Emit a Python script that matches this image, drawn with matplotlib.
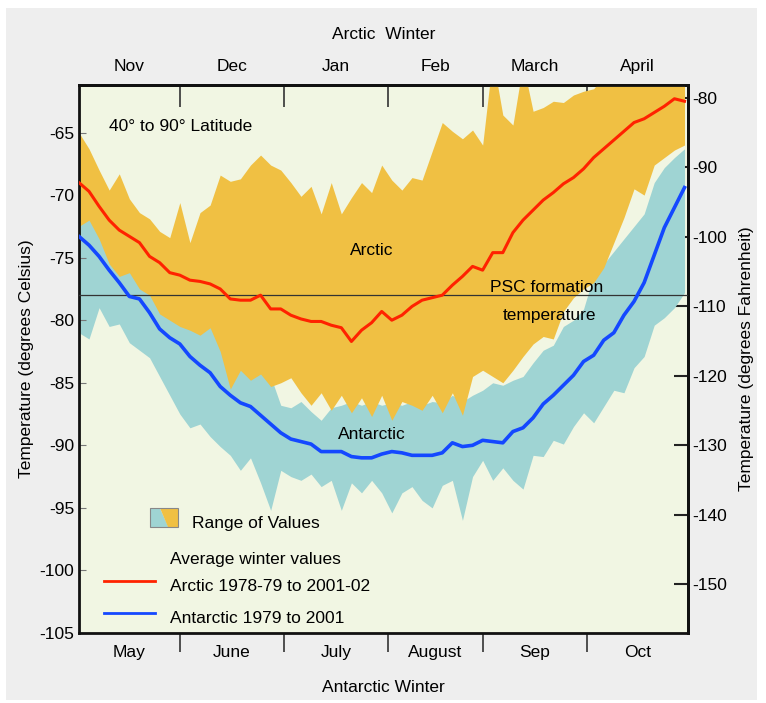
import numpy as np
import matplotlib
matplotlib.use('Agg')
import matplotlib.pyplot as plt
from matplotlib.patches import Rectangle, Polygon
from matplotlib.lines import Line2D

plt.rcParams['font.family'] = ['Liberation Sans', 'DejaVu Sans']
plt.rcParams['axes.unicode_minus'] = False

# day index from 1 Nov (Arctic) / 1 May (Antarctic), every 3 days
days = np.arange(0, 181, 3)

arctic_mean = [-69.0, -69.7, -70.9, -72.0, -72.8, -73.3, -73.8, -74.9, -75.4, -76.2,
               -76.4, -76.8, -76.9, -77.1, -77.5, -78.3, -78.4, -78.4, -78.0, -79.1,
               -79.1, -79.6, -79.9, -80.1, -80.1, -80.4, -80.6, -81.7, -80.8, -80.2,
               -79.3, -80.0, -79.6, -78.9, -78.4, -78.2, -78.0, -77.2, -76.5, -75.7,
               -76.0, -74.6, -74.6, -73.0, -72.0, -71.2, -70.4, -69.8, -69.1, -68.6,
               -67.9, -67.0, -66.3, -65.6, -64.9, -64.2, -63.9, -63.4, -62.9, -62.3,
               -62.5]

antarctic_mean = [-73.3, -74.0, -74.9, -76.0, -77.0, -78.1, -78.3, -79.4, -80.7, -81.4,
                  -81.9, -82.9, -83.6, -84.2, -85.3, -86.0, -86.6, -86.9, -87.6, -88.3,
                  -89.0, -89.5, -89.7, -89.9, -90.5, -90.5, -90.5, -90.9, -91.0, -91.0,
                  -90.7, -90.5, -90.6, -90.8, -90.8, -90.8, -90.6, -89.8, -90.1, -90.0,
                  -89.6, -89.7, -89.8, -88.9, -88.6, -87.8, -86.7, -86.0, -85.2, -84.4,
                  -83.3, -82.8, -81.6, -81.0, -79.6, -78.5, -77.0, -74.8, -72.6, -71.0,
                  -69.4]

arctic_max = [-65.0, -66.3, -68.0, -69.6, -68.3, -70.3, -71.4, -71.9, -72.9, -73.4,
              -70.6, -73.8, -71.4, -70.8, -68.4, -68.9, -68.7, -67.6, -66.8, -67.6,
              -68.0, -69.0, -70.1, -69.3, -71.5, -69.0, -71.5, -70.2, -69.0, -69.8,
              -67.6, -68.8, -69.6, -68.6, -68.8, -66.5, -64.2, -64.9, -65.5, -64.8,
              -66.0, -59.0, -63.6, -64.4, -59.5, -63.3, -63.0, -62.5, -62.6, -62.0,
              -61.7, -61.5, -60.5, -59.0, -59.0, -59.0, -59.0, -59.0, -59.0, -59.0,
              -59.0]

arctic_min = [-72.5, -72.0, -73.5, -75.5, -76.5, -76.2, -77.5, -78.0, -79.5, -80.0,
              -80.5, -80.8, -81.2, -80.6, -82.5, -85.5, -84.0, -84.8, -84.3, -85.3,
              -85.0, -84.6, -85.8, -86.8, -85.8, -87.2, -86.0, -87.4, -86.2, -87.7,
              -86.0, -88.0, -86.5, -86.8, -87.2, -86.0, -87.4, -85.8, -87.6, -84.5,
              -84.0, -84.5, -85.0, -84.0, -82.9, -81.9, -81.3, -81.5, -79.3, -78.2,
              -77.5, -77.0, -75.8, -73.8, -71.8, -69.5, -70.0, -67.6, -67.0, -66.4,
              -66.0]

antarctic_max = [-71.0, -71.0, -72.0, -74.0, -75.0, -75.5, -76.5, -77.0, -78.0, -78.5,
                 -79.0, -79.5, -80.0, -80.0, -81.0, -82.0, -83.0, -83.5, -84.0, -84.5,
                 -86.8, -87.0, -86.5, -87.3, -88.0, -87.0, -86.8, -86.5, -86.8, -86.5,
                 -86.8, -86.6, -86.8, -86.5, -86.8, -86.5, -86.6, -86.0, -86.5, -86.0,
                 -85.6, -85.0, -85.2, -84.8, -84.5, -83.4, -82.4, -82.0, -80.5, -80.0,
                 -79.1, -76.4, -75.5, -74.5, -73.5, -72.5, -71.5, -69.0, -67.8, -67.0,
                 -66.3]

antarctic_min = [-81.0, -81.5, -79.0, -80.5, -80.3, -81.8, -82.4, -83.0, -84.5, -86.0,
                 -87.5, -88.6, -88.3, -89.3, -90.1, -90.8, -92.0, -91.0, -93.0, -95.2,
                 -92.0, -92.5, -92.8, -92.3, -93.3, -92.8, -95.2, -93.0, -93.8, -92.8,
                 -93.8, -95.4, -93.8, -93.3, -94.4, -95.0, -93.2, -92.8, -96.0, -92.5,
                 -91.2, -92.8, -91.8, -92.8, -93.5, -90.8, -90.9, -89.6, -89.9, -88.5,
                 -87.4, -88.2, -86.9, -85.6, -85.8, -83.8, -82.9, -80.4, -79.8, -79.0,
                 -77.8]

month_edges = [30, 61, 92, 120, 151]
month_mids = [15, 45.5, 76.5, 106, 135.5, 166]
arctic_months = ['Nov', 'Dec', 'Jan', 'Feb', 'March', 'April']
antarctic_months = ['May', 'June', 'July', 'August', 'Sep', 'Oct']
psc_temp = -78

c_orange = '#f0c043'
c_teal = '#9fd4d3'
c_bg = '#f1f6e3'
c_red = '#ff2200'
c_blue = '#1448ff'

fig = plt.figure(figsize=(7.66, 7.03), dpi=100, facecolor='white')
fig.patches.append(Rectangle((0.008, 0.004), 0.98, 0.984, transform=fig.transFigure,
                             facecolor='#eeeeee', edgecolor='none', zorder=-10))
ax = fig.add_axes([0.103, 0.0996, 0.795, 0.7795])
ax.set_facecolor(c_bg)

ax.fill_between(days, antarctic_min, antarctic_max, color=c_teal, lw=0, zorder=1)
ax.fill_between(days, arctic_min, arctic_max, color=c_orange, lw=0, zorder=2)
ax.axhline(psc_temp, color='#333333', lw=0.9, zorder=3)
ax.plot(days, arctic_mean, color=c_red, lw=2.2, zorder=4)
ax.plot(days, antarctic_mean, color=c_blue, lw=2.6, zorder=4)

ax.set_xlim(0, 181)
ax.set_ylim(-105, -61.2)
ax.set_yticks(np.arange(-105, -64, 5))
ax.tick_params(axis='y', direction='in', length=5, color='#777777', labelsize=12.5)

ax.set_xticks(month_edges)
ax.set_xticklabels([])
ax.set_xticks(month_mids, minor=True)
ax.set_xticklabels(antarctic_months, minor=True)
ax.tick_params(axis='x', which='major', direction='out', length=14, width=1.2, color='#333333')
ax.tick_params(axis='x', which='minor', length=0, labelsize=12.5, pad=9)
ax.set_xlabel('Antarctic Winter', fontsize=12.5, labelpad=14)
ax.set_ylabel('Temperature (degrees Celsius)', fontsize=12.5, labelpad=4)

top = ax.secondary_xaxis('top')
top.set_xticks(month_edges)
top.set_xticklabels([])
top.set_xticks(month_mids, minor=True)
top.set_xticklabels(arctic_months, minor=True)
top.tick_params(axis='x', which='major', direction='in', length=16, width=1.2, color='#333333')
top.tick_params(axis='x', which='minor', length=0, labelsize=12.5, pad=8)
top.set_xlabel('Arctic  Winter', fontsize=12.5, labelpad=14)

right = ax.secondary_yaxis('right', functions=(lambda c: c * 9 / 5 + 32,
                                               lambda f: (f - 32) * 5 / 9))
right.set_yticks(np.arange(-150, -79, 10))
right.tick_params(axis='y', direction='in', length=10, width=1.5, color='#222222', labelsize=12.5)
right.set_ylabel('Temperature (degrees Fahrenheit)', fontsize=12.5, labelpad=8)

for s in ax.spines.values():
    s.set_linewidth(2)
    s.set_color('#111111')
for s in top.spines.values():
    s.set_linewidth(2)
for s in right.spines.values():
    s.set_linewidth(2)

ax.text(9, -64.5, '40\u00b0 to 90\u00b0 Latitude', fontsize=12.5, ha='left', va='center', zorder=5)
ax.text(87, -74.4, 'Arctic', fontsize=12.5, ha='center', va='center', zorder=5)
ax.text(139, -77.4, 'PSC formation', fontsize=12.5, ha='center', va='center', zorder=5)
ax.text(140, -79.6, 'temperature', fontsize=12.5, ha='center', va='center', zorder=5)
ax.text(87, -89.1, 'Antarctic', fontsize=12.5, ha='center', va='center', zorder=5)

# legend, drawn by hand in axes fraction
tr = ax.transAxes
ax.add_patch(Polygon([(0.117, 0.193), (0.147, 0.193), (0.133, 0.228), (0.117, 0.228)],
                     closed=True, transform=tr, facecolor=c_teal, edgecolor='none', zorder=6))
ax.add_patch(Polygon([(0.147, 0.193), (0.163, 0.193), (0.163, 0.228), (0.133, 0.228)],
                     closed=True, transform=tr, facecolor=c_orange, edgecolor='none', zorder=6))
ax.add_patch(Rectangle((0.117, 0.193), 0.046, 0.035, transform=tr, facecolor='none',
                       edgecolor='#888888', lw=0.8, zorder=7))
ax.text(0.186, 0.200, 'Range of Values', transform=tr, fontsize=12.5, va='center', zorder=6)
ax.text(0.150, 0.134, 'Average winter values', transform=tr, fontsize=12.5, va='center', zorder=6)
ax.add_line(Line2D([0.042, 0.125], [0.095, 0.095], transform=tr, color=c_red, lw=2, zorder=6))
ax.text(0.150, 0.085, 'Arctic 1978-79 to 2001-02', transform=tr, fontsize=12.5, va='center', zorder=6)
ax.add_line(Line2D([0.042, 0.125], [0.036, 0.036], transform=tr, color=c_blue, lw=2, zorder=6))
ax.text(0.150, 0.027, 'Antarctic 1979 to 2001', transform=tr, fontsize=12.5, va='center', zorder=6)

fig.savefig('out.png', dpi=100, facecolor=fig.get_facecolor())
